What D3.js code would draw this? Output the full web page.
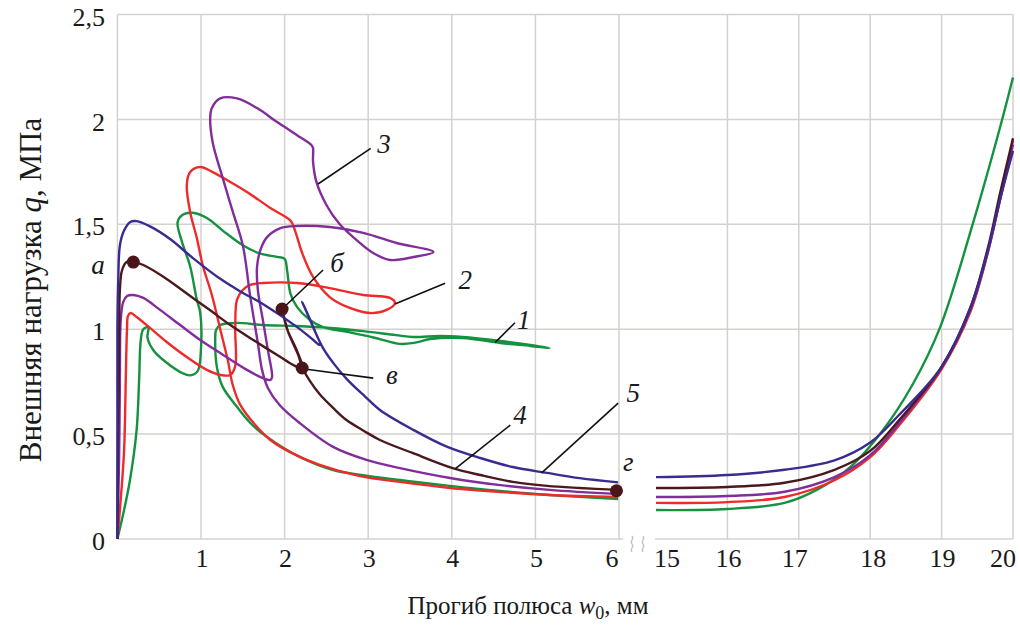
<!DOCTYPE html>
<html lang="ru">

<head>
    <meta charset="UTF-8" />
    <script src="https://d3js.org/d3.v7.min.js"></script>
    <title>Прогиб полюса</title>
    <style>
        body {
            margin: 0;
            overflow: hidden;
            background: white;
        }

        text {
            font-family: "Liberation Serif", "DejaVu Serif", serif;
            fill: #1a1a1a;
        }
    </style>
</head>

<body>
    <script>
        // tick values of the two x panels (axis is broken between 6 and 15)
        const yTicks = [0, 0.5, 1, 1.5, 2, 2.5];
        const xTicksLeft = [1, 2, 3, 4, 5, 6];
        const xTicksRight = [15, 16, 17, 18, 19, 20];

        // curves, [w0 (mm), q (MPa)]
        // left panel: 0..6 mm
        const green1 = [[0, 0], [0.07, 0.12], [0.15, 0.28], [0.23, 0.52], [0.26, 0.76], [0.28, 0.95], [0.31, 1.0], [0.37, 1.01],
            [0.36, 0.96], [0.43, 0.9], [0.59, 0.84], [0.78, 0.79], [0.87, 0.78], [0.96, 0.8], [1.0, 0.91], [0.99, 1.08],
            [0.95, 1.14], [0.87, 1.3], [0.77, 1.42], [0.72, 1.51], [0.78, 1.545], [0.9, 1.555], [1.07, 1.53], [1.26, 1.47],
            [1.5, 1.4], [1.71, 1.36], [1.91, 1.345], [2.0, 1.335], [2.03, 1.28], [2.07, 1.17], [2.15, 1.105], [2.3, 1.045],
            [2.46, 1.01], [2.75, 0.987], [2.94, 0.972], [3.14, 0.953], [3.38, 0.93], [3.56, 0.936], [3.74, 0.953],
            [4.13, 0.958], [4.58, 0.934], [4.94, 0.92], [5.17, 0.91], [4.94, 0.925], [4.58, 0.944], [4.13, 0.963],
            [3.86, 0.968], [3.54, 0.963], [3.33, 0.972], [2.94, 0.991], [2.54, 1.006], [2.15, 1.015], [1.74, 1.02],
            [1.43, 1.03], [1.23, 1.02], [1.18, 0.996], [1.17, 0.95], [1.19, 0.82], [1.26, 0.725], [1.43, 0.63],
            [1.59, 0.553], [1.79, 0.486], [2.18, 0.391], [2.58, 0.329], [3.38, 0.281], [3.98, 0.253], [4.58, 0.229],
            [5.17, 0.21], [5.99, 0.19]];

        const red2 = [[0, 0], [0.04, 0.19], [0.08, 0.42], [0.1, 0.76], [0.115, 1.0], [0.127, 1.063], [0.16, 1.077],
            [0.23, 1.058], [0.39, 1.006], [0.59, 0.939], [0.83, 0.867], [1.07, 0.806], [1.23, 0.782], [1.35, 0.782],
            [1.41, 0.825], [1.41, 1.0], [1.43, 1.14], [1.5, 1.187], [1.59, 1.211], [1.74, 1.22], [2.15, 1.22],
            [2.54, 1.196], [2.94, 1.163], [3.26, 1.149], [3.32, 1.125], [3.22, 1.092], [3.02, 1.077], [2.75, 1.106],
            [2.54, 1.153], [2.34, 1.249], [2.21, 1.363], [2.15, 1.439], [2.1, 1.497], [2.065, 1.52], [1.83, 1.578],
            [1.55, 1.654], [1.35, 1.702], [1.14, 1.749], [0.99, 1.773], [0.87, 1.749], [0.83, 1.687], [0.87, 1.559],
            [0.95, 1.435], [1.02, 1.306], [1.13, 1.163], [1.23, 1.0], [1.32, 0.853], [1.38, 0.734], [1.47, 0.639],
            [1.65, 0.543], [1.83, 0.472], [2.06, 0.415], [2.42, 0.353], [2.9, 0.3], [3.38, 0.272], [3.98, 0.243],
            [4.58, 0.224], [5.17, 0.21], [5.99, 0.2]];

        const purple3 = [[0, 0], [0.02, 0.38], [0.03, 0.76], [0.04, 1.044], [0.07, 1.13], [0.115, 1.158], [0.19, 1.163],
            [0.31, 1.149], [0.51, 1.092], [0.75, 1.02], [0.99, 0.949], [1.23, 0.887], [1.55, 0.806], [1.74, 0.767],
            [1.83, 0.758], [1.85, 0.772], [1.8, 0.9], [1.74, 1.044], [1.68, 1.187], [1.67, 1.296], [1.71, 1.377],
            [1.79, 1.439], [1.95, 1.482], [2.15, 1.492], [2.54, 1.487], [2.94, 1.459], [3.34, 1.411], [3.78, 1.368],
            [3.54, 1.344], [3.26, 1.33], [3.06, 1.363], [2.82, 1.439], [2.66, 1.5], [2.5, 1.592], [2.38, 1.703],
            [2.34, 1.8], [2.34, 1.864], [2.32, 1.878], [2.145, 1.926], [1.905, 1.989], [1.67, 2.054], [1.43, 2.1],
            [1.23, 2.1], [1.13, 2.054], [1.11, 2.007], [1.14, 1.89], [1.26, 1.72], [1.38, 1.56], [1.5, 1.4],
            [1.59, 1.153], [1.68, 0.934], [1.73, 0.806], [1.8, 0.72], [1.94, 0.639], [2.18, 0.553], [2.58, 0.439],
            [2.98, 0.377], [3.38, 0.338], [3.98, 0.291], [4.58, 0.257], [5.17, 0.234], [5.99, 0.214]];

        const brown4 = [[0, 0], [0.007, 0.42], [0.02, 0.9], [0.03, 1.19], [0.055, 1.28], [0.11, 1.32], [0.19, 1.32],
            [0.31, 1.306], [0.55, 1.25], [0.83, 1.17], [1.11, 1.09], [1.35, 1.02], [1.62, 0.95], [1.95, 0.867],
            [2.1, 0.83], [2.21, 0.815], [2.15, 0.895], [2.03, 1.0], [1.97, 1.096], [2.04, 0.99], [2.16, 0.88],
            [2.22, 0.81], [2.3, 0.755], [2.42, 0.69], [2.58, 0.625], [2.74, 0.567], [2.95, 0.515], [3.14, 0.472],
            [3.53, 0.41], [4.01, 0.338], [4.34, 0.305], [4.73, 0.272], [5.14, 0.253], [5.53, 0.243], [5.99, 0.234]];

        const blue5 = [[0, 0], [0, 0.28], [0, 0.66], [0, 1.0], [0.01, 1.23], [0.03, 1.4], [0.08, 1.47], [0.15, 1.51],
            [0.23, 1.515], [0.39, 1.49], [0.63, 1.43], [0.9, 1.34], [1.23, 1.24], [1.47, 1.18], [1.74, 1.12],
            [2.15, 1.01], [2.34, 0.95], [2.42, 0.925], [2.21, 1.13], [2.33, 1.02], [2.46, 0.91], [2.6, 0.83],
            [2.75, 0.76], [2.96, 0.68], [3.14, 0.615], [3.54, 0.52], [3.94, 0.44], [4.34, 0.386], [4.73, 0.343],
            [5.14, 0.315], [5.53, 0.29], [5.99, 0.27]];

        // right panel: 15..20 mm
        const green1Far = [[15, 0.138], [16, 0.143], [16.8, 0.172], [17.25, 0.234], [17.72, 0.343], [18.18, 0.52],
            [18.6, 0.74], [18.98, 1.01], [19.44, 1.506], [19.82, 1.964], [20, 2.2]];
        const red2Far = [[15, 0.172], [16, 0.176], [16.8, 0.2], [17.5, 0.28], [18, 0.39], [18.4, 0.54], [19, 0.81],
            [19.4, 1.08], [19.65, 1.37], [19.82, 1.62], [20, 1.9]];
        const purple3Far = [[15, 0.2], [16, 0.205], [16.8, 0.225], [17.5, 0.295], [18, 0.4], [18.4, 0.55], [19, 0.82],
            [19.4, 1.09], [19.65, 1.37], [19.82, 1.62], [20, 1.88]];
        const brown4Far = [[15, 0.243], [16, 0.248], [16.8, 0.268], [17.5, 0.33], [18, 0.42], [18.4, 0.565], [19, 0.82],
            [19.4, 1.1], [19.65, 1.39], [19.82, 1.65], [20, 1.91]];
        const blue5Far = [[15, 0.295], [16, 0.305], [16.8, 0.33], [17.5, 0.375], [18, 0.46], [18.4, 0.59], [19, 0.82],
            [19.4, 1.1], [19.65, 1.38], [19.82, 1.62], [20, 1.85]];

        // marked states on curve 4
        const pointNames = ["а", "б", "в", "г"];
        const pointW = [0.19, 1.97, 2.21, 5.97];
        const pointQ = [1.32, 1.096, 0.815, 0.23];

        const width = 1020;
        const height = 630;

        const svg = d3.select("body")
            .append("svg")
            .attr("width", width)
            .attr("height", height);

        // two x scales for the broken axis, one y scale
        const xL = d3.scaleLinear().domain([0, 6]).range([117.4, 619]);
        const xR = d3.scaleLinear().domain([15, 20]).range([656, 1013]);
        const y = d3.scaleLinear().domain([0, 2.5]).range([539, 14.5]);

        const gridColor = "#d6d1cd";
        const grid = svg.append("g").attr("stroke", gridColor).attr("stroke-width", 1.5);

        // horizontal grid runs through both panels
        grid.selectAll(".h")
            .data(yTicks.filter(d => d > 0))
            .join("line")
            .attr("x1", xL(0)).attr("x2", xR(20))
            .attr("y1", d => y(d)).attr("y2", d => y(d));

        grid.selectAll(".vl")
            .data([0].concat(xTicksLeft))
            .join("line")
            .attr("x1", d => xL(d)).attr("x2", d => xL(d))
            .attr("y1", y(0)).attr("y2", y(2.5));

        grid.selectAll(".vr")
            .data(xTicksRight.slice(1))
            .join("line")
            .attr("x1", d => xR(d)).attr("x2", d => xR(d))
            .attr("y1", y(0)).attr("y2", y(2.5));

        // bottom axis line, broken
        grid.append("line")
            .attr("x1", xL(0)).attr("x2", xL(6) + 4)
            .attr("y1", y(0)).attr("y2", y(0));
        grid.append("line")
            .attr("x1", xR(15) - 1).attr("x2", xR(20))
            .attr("y1", y(0)).attr("y2", y(0));

        // break marks
        [632, 643].forEach(bx => {
            svg.append("path")
                .attr("d", `M${bx},${y(0) - 3} c3,3 -3,5 0,8 c3,3 -3,5 0,8`)
                .attr("fill", "none")
                .attr("stroke", "#c8c2be")
                .attr("stroke-width", 1.4);
        });

        // tick labels
        const fmt = d => String(d).replace(".", ",");
        const tickShift = { 6: -7, 15: 11, 17: -4, 18: 3, 20: -10 };

        svg.selectAll(".ytick")
            .data(yTicks)
            .join("text")
            .attr("x", 105)
            .attr("y", d => y(d) + 2)
            .attr("dy", "0.35em")
            .attr("text-anchor", "end")
            .style("font-size", "26px")
            .text(fmt);

        svg.selectAll(".xtickL")
            .data(xTicksLeft)
            .join("text")
            .attr("x", d => xL(d) + (tickShift[d] || 1))
            .attr("y", 567)
            .attr("text-anchor", "middle")
            .style("font-size", "26px")
            .text(d => d);

        svg.selectAll(".xtickR")
            .data(xTicksRight)
            .join("text")
            .attr("x", d => xR(d) + (tickShift[d] || 1))
            .attr("y", 567)
            .attr("text-anchor", "middle")
            .style("font-size", "26px")
            .text(d => d);

        // axis titles
        const xTitle = svg.append("text")
            .attr("x", 528)
            .attr("y", 614)
            .attr("text-anchor", "middle")
            .style("font-size", "25px");
        xTitle.append("tspan").text("Прогиб полюса ");
        xTitle.append("tspan").style("font-style", "italic").text("w");
        xTitle.append("tspan").attr("dy", 5).style("font-size", "18px").text("0");
        xTitle.append("tspan").attr("dy", -5).text(", мм");

        const yTitle = svg.append("text")
            .attr("transform", "translate(41,290) rotate(-90)")
            .attr("text-anchor", "middle")
            .style("font-size", "31px");
        yTitle.append("tspan").text("Внешняя нагрузка ");
        yTitle.append("tspan").style("font-style", "italic").text("q");
        yTitle.append("tspan").text(", МПа");

        // curves
        const lineL = d3.line()
            .x(d => xL(d[0]))
            .y(d => y(d[1]))
            .curve(d3.curveCatmullRom.alpha(0.5));
        const lineR = d3.line()
            .x(d => xR(d[0]))
            .y(d => y(d[1]))
            .curve(d3.curveCatmullRom.alpha(0.5));

        const series = [
            { near: green1, far: green1Far, color: "#14923f" },
            { near: red2, far: red2Far, color: "#ee2b2b" },
            { near: purple3, far: purple3Far, color: "#812d9a" },
            { near: brown4, far: brown4Far, color: "#4b191b" },
            { near: blue5, far: blue5Far, color: "#3a2c8e" },
        ];

        const curves = svg.append("g")
            .attr("fill", "none")
            .attr("stroke-width", 2.4)
            .attr("stroke-linejoin", "round");

        series.forEach(s => {
            curves.append("path").attr("d", lineL(s.near)).attr("stroke", s.color);
            curves.append("path").attr("d", lineR(s.far)).attr("stroke", s.color);
        });

        // leader lines with curve numbers and point letters
        const leaders = [
            { t: "3", a: [2.40, 1.692], b: [3.03, 1.862], l: [3.19, 1.883] },
            { t: "2", a: [3.32, 1.12], b: [3.92, 1.219], l: [4.16, 1.239] },
            { t: "1", a: [4.517, 0.936], b: [4.756, 1.031], l: [4.86, 1.044] },
            { t: "б", a: [1.98, 1.10], b: [2.46, 1.282], l: [2.627, 1.316] },
            { t: "в", a: [2.24, 0.81], b: [3.06, 0.767], l: [3.284, 0.782] },
            { t: "4", a: [4.04, 0.334], b: [4.70, 0.543], l: [4.815, 0.591] },
            { t: "5", a: [5.075, 0.315], b: [5.99, 0.648], l: [6.17, 0.696] },
        ];

        svg.append("g")
            .selectAll("line")
            .data(leaders)
            .join("line")
            .attr("x1", d => xL(d.a[0])).attr("y1", d => y(d.a[1]))
            .attr("x2", d => xL(d.b[0])).attr("y2", d => y(d.b[1]))
            .attr("stroke", "#111")
            .attr("stroke-width", 1.6);

        svg.append("g")
            .selectAll("text")
            .data(leaders)
            .join("text")
            .attr("x", d => xL(d.l[0]))
            .attr("y", d => y(d.l[1]))
            .attr("dy", "0.35em")
            .attr("text-anchor", "middle")
            .style("font-size", "27px")
            .style("font-style", "italic")
            .text(d => d.t);

        // letters without leaders
        svg.append("text")
            .attr("x", xL(-0.232)).attr("y", y(1.306)).attr("dy", "0.35em")
            .attr("text-anchor", "middle")
            .style("font-size", "27px").style("font-style", "italic")
            .text(pointNames[0]);
        svg.append("text")
            .attr("x", xL(6.11)).attr("y", y(0.367)).attr("dy", "0.35em")
            .attr("text-anchor", "middle")
            .style("font-size", "27px").style("font-style", "italic")
            .text(pointNames[3]);

        // dots
        svg.append("g")
            .selectAll("circle")
            .data(pointW)
            .join("circle")
            .attr("cx", d => xL(d))
            .attr("cy", (d, i) => y(pointQ[i]))
            .attr("r", 6.5)
            .attr("fill", "#4a1618");
    </script>
</body>

</html>
